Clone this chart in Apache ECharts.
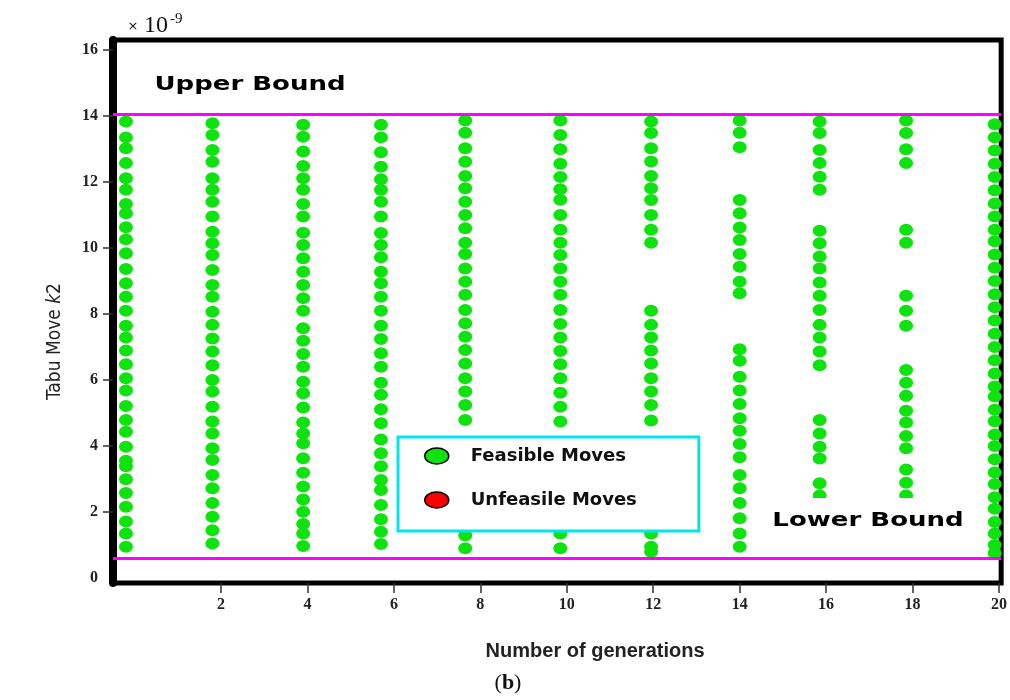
<!DOCTYPE html>
<html>
<head>
<meta charset="utf-8">
<script src="https://cdn.jsdelivr.net/npm/echarts@6/dist/echarts.min.js"></script>
<style>
  html, body { margin: 0; padding: 0; background: #fff; }
  #chart { width: 1010px; height: 700px; }
</style>
</head>
<body>
<div id="chart"></div>
<script>
// Generation positions of each column of tabu moves
const genX = [-0.2, 1.8, 3.9, 5.7, 7.65, 9.85, 11.95, 14.0, 15.85, 17.85, 19.9];

// Feasible k2 moves per generation (units of 1e-9)
const movesG0 = [13.83, 13.35, 13.02, 12.57, 12.11, 11.76, 11.33, 11.05, 10.63, 10.26, 9.84, 9.36, 8.93, 8.52, 8.10, 7.64, 7.29, 6.89, 6.48, 6.05, 5.68, 5.21, 4.79, 4.43, 3.98, 3.55, 3.39, 2.99, 2.58, 2.16, 1.71, 1.35, 0.95];
const movesG2 = [13.78, 13.42, 12.97, 12.61, 12.11, 11.76, 11.40, 10.95, 10.49, 10.14, 9.79, 9.33, 8.88, 8.52, 8.07, 7.67, 7.26, 6.86, 6.45, 6.00, 5.65, 5.19, 4.74, 4.38, 3.93, 3.58, 3.12, 2.72, 2.27, 1.86, 1.45, 1.05];
const movesG4 = [13.73, 13.37, 12.92, 12.48, 12.11, 11.76, 11.33, 10.95, 10.46, 10.09, 9.69, 9.28, 8.88, 8.48, 8.10, 7.57, 7.19, 6.79, 6.40, 5.95, 5.60, 5.17, 4.71, 4.38, 4.08, 3.63, 3.19, 2.77, 2.38, 2.01, 1.64, 1.35, 0.97];
const movesG6 = [13.73, 13.35, 12.90, 12.46, 12.08, 11.76, 11.40, 10.95, 10.45, 10.09, 9.72, 9.28, 8.93, 8.52, 8.10, 7.64, 7.24, 6.81, 6.40, 5.92, 5.55, 5.11, 4.69, 4.20, 3.78, 3.39, 2.97, 2.67, 2.21, 1.78, 1.40, 1.03];
const movesG8 = [13.86, 13.49, 13.02, 12.61, 12.18, 11.81, 11.40, 11.00, 10.60, 10.16, 9.82, 9.38, 8.98, 8.58, 8.12, 7.72, 7.31, 6.91, 6.50, 6.05, 5.65, 5.24, 4.79, 1.30, 0.90];
const movesG10 = [13.86, 13.42, 12.99, 12.55, 12.15, 11.78, 11.46, 11.00, 10.55, 10.16, 9.79, 9.38, 8.98, 8.58, 8.12, 7.70, 7.29, 6.88, 6.48, 6.05, 5.61, 5.19, 4.74, 1.35, 0.90];
const movesG12 = [13.83, 13.48, 13.02, 12.62, 12.18, 11.81, 11.45, 11.00, 10.55, 10.16, 8.10, 7.67, 7.29, 6.89, 6.50, 6.05, 5.65, 5.24, 4.77, 1.35, 0.95, 0.80];
const movesG14 = [13.86, 13.49, 13.05, 11.45, 11.05, 10.62, 10.24, 9.82, 9.43, 8.98, 8.63, 6.93, 6.58, 6.10, 5.68, 5.27, 4.84, 4.46, 4.06, 3.66, 3.12, 2.72, 2.27, 1.81, 1.35, 0.95];
const movesG16 = [13.83, 13.48, 12.97, 12.57, 12.16, 11.76, 10.52, 10.14, 9.74, 9.38, 8.95, 8.55, 8.12, 7.67, 7.29, 6.86, 6.45, 4.79, 4.38, 3.98, 3.62, 2.87, 2.50];
const movesG18 = [13.86, 13.48, 12.99, 12.57, 10.55, 10.16, 8.55, 8.10, 7.64, 6.30, 5.92, 5.52, 5.07, 4.71, 4.30, 3.93, 3.29, 2.89, 2.50];
const movesG20 = [13.75, 13.35, 12.95, 12.55, 12.15, 11.75, 11.35, 10.95, 10.55, 10.20, 9.80, 9.40, 9.00, 8.60, 8.20, 7.80, 7.40, 7.00, 6.60, 6.20, 5.80, 5.50, 5.10, 4.75, 4.35, 4.00, 3.60, 3.20, 2.85, 2.45, 2.10, 1.70, 1.35, 1.00, 0.75];

// Unfeasible moves (none recorded)
const unfeasibleMoves = [];

// Search bounds for k2
const upperBound = 14.06;
const lowerBound = 0.61;

// Axis ticks
const xTicks = [2, 4, 6, 8, 10, 12, 14, 16, 18, 20];
const yTicks = [2, 4, 6, 8, 10, 12, 14, 16];
const yLabels = [0, 2, 4, 6, 8, 10, 12, 14, 16];

const columns = [movesG0, movesG2, movesG4, movesG6, movesG8, movesG10, movesG12, movesG14, movesG16, movesG18, movesG20];
const feasibleData = [];
columns.forEach((col, i) => col.forEach(v => feasibleData.push([genX[i], v])));

const ellipse = 'path://M0,5a5,5 0 1,0 10,0a5,5 0 1,0 -10,0z';
const tickFont = '"Liberation Serif", "DejaVu Serif", serif';
const boldSans = '"DejaVu Sans", sans-serif';

const chart = echarts.init(document.getElementById('chart'), null, { renderer: 'canvas' });

chart.setOption({
  animation: false,
  backgroundColor: '#fff',
  grid: {
    left: 113, right: 7, top: 40, bottom: 117,
    show: true, borderColor: '#000', borderWidth: 5, backgroundColor: '#fff'
  },
  xAxis: {
    type: 'value',
    min: -0.5, max: 20.05,
    axisLine: { show: false, onZero: false },
    splitLine: { show: false },
    axisTick: { show: true, customValues: xTicks, length: 10, lineStyle: { color: '#333', width: 1.5 } },
    axisLabel: {
      customValues: xTicks, margin: 14,
      fontFamily: tickFont, fontWeight: 'bold', fontSize: 16, color: '#222'
    },
    name: 'Number of generations',
    nameLocation: 'middle',
    nameGap: 58,
    nameTextStyle: {
      fontFamily: '"Liberation Sans", Arial, sans-serif', fontWeight: 'bold',
      fontSize: 20, color: '#222', padding: [0, 0, 0, 76]
    }
  },
  yAxis: {
    type: 'value',
    min: -0.15, max: 16.3,
    axisLine: { show: true, onZero: false, lineStyle: { color: '#000', width: 8 } },
    splitLine: { show: false },
    axisTick: { show: true, customValues: yTicks, length: 10, lineStyle: { color: '#333', width: 1.5 } },
    axisLabel: {
      customValues: yLabels, margin: 15,
      fontFamily: tickFont, fontWeight: 'bold', fontSize: 16, color: '#222'
    },
    name: 'Tabu Move {i|k}2',
    nameLocation: 'middle',
    nameGap: 48,
    nameTextStyle: {
      fontFamily: '"Liberation Sans Narrow", "DejaVu Sans Condensed", sans-serif',
      fontSize: 19, color: '#222', padding: [0, 60, 0, 0],
      rich: {
        i: {
          fontFamily: '"Liberation Sans Narrow", "DejaVu Sans Condensed", sans-serif',
          fontSize: 19, fontStyle: 'italic', color: '#222'
        }
      }
    }
  },
  legend: {
    data: ['Feasible Moves', 'Unfeasile Moves'],
    orient: 'vertical',
    left: 398, top: 437,
    padding: [10, 62, 22, 26],
    itemGap: 26,
    itemWidth: 24, itemHeight: 16,
    icon: ellipse,
    symbolKeepAspect: false,
    itemStyle: { borderColor: '#000', borderWidth: 1.5, opacity: 1 },
    textStyle: {
      fontFamily: boldSans, fontWeight: 'bold', fontSize: 18, color: '#111',
      padding: [0, 0, 0, 17]
    },
    backgroundColor: '#fff',
    borderColor: '#00e5ee',
    borderWidth: 3,
    selectedMode: false
  },
  series: [
    {
      name: 'Feasible Moves',
      type: 'scatter',
      data: feasibleData,
      symbol: ellipse,
      symbolKeepAspect: false,
      symbolSize: [14, 12],
      itemStyle: { color: '#0fe30f', opacity: 1 },
      silent: true,
      markLine: {
        silent: true,
        symbol: ['none', 'none'],
        label: { show: false },
        lineStyle: { color: '#ff00ff', width: 3, type: 'solid' },
        data: [{ yAxis: upperBound }, { yAxis: lowerBound }]
      }
    },
    {
      name: 'Unfeasile Moves',
      type: 'scatter',
      data: unfeasibleMoves,
      symbol: ellipse,
      symbolKeepAspect: false,
      symbolSize: [14, 12],
      itemStyle: { color: '#ff0000', opacity: 1 }
    }
  ],
  graphic: [
    {
      type: 'text', x: 133, y: 27, z: 50,
      style: { text: '×', font: '13px "DejaVu Sans", sans-serif', fill: '#111', align: 'center', verticalAlign: 'middle' }
    },
    {
      type: 'text', x: 144, y: 26, z: 50,
      style: { text: '10', font: '24px "Liberation Serif", serif', fill: '#111', align: 'left', verticalAlign: 'middle' }
    },
    {
      type: 'text', x: 170, y: 19, z: 50,
      style: { text: '-9', font: '15px "Liberation Serif", serif', fill: '#111', align: 'left', verticalAlign: 'middle' }
    },
    {
      type: 'text', x: 250, y: 85, z: 50, scaleX: 1.3,
      style: { text: 'Upper Bound', font: 'bold 20px "DejaVu Sans", sans-serif', fill: '#000', align: 'center', verticalAlign: 'middle' }
    },
    {
      type: 'text', x: 868, y: 521, z: 50, scaleX: 1.3,
      style: {
        text: 'Lower Bound', font: 'bold 20px "DejaVu Sans", sans-serif', fill: '#000',
        align: 'center', verticalAlign: 'middle', backgroundColor: '#fff', padding: [13, 8, 13, 8]
      }
    },
    {
      type: 'text', x: 508, y: 683, z: 50,
      style: {
        text: '({b|b})', font: '22px "Liberation Serif", serif', fill: '#111',
        align: 'center', verticalAlign: 'middle',
        rich: { b: { font: 'bold 22px "Liberation Serif", serif', fill: '#111' } }
      }
    }
  ]
});
</script>
</body>
</html>
